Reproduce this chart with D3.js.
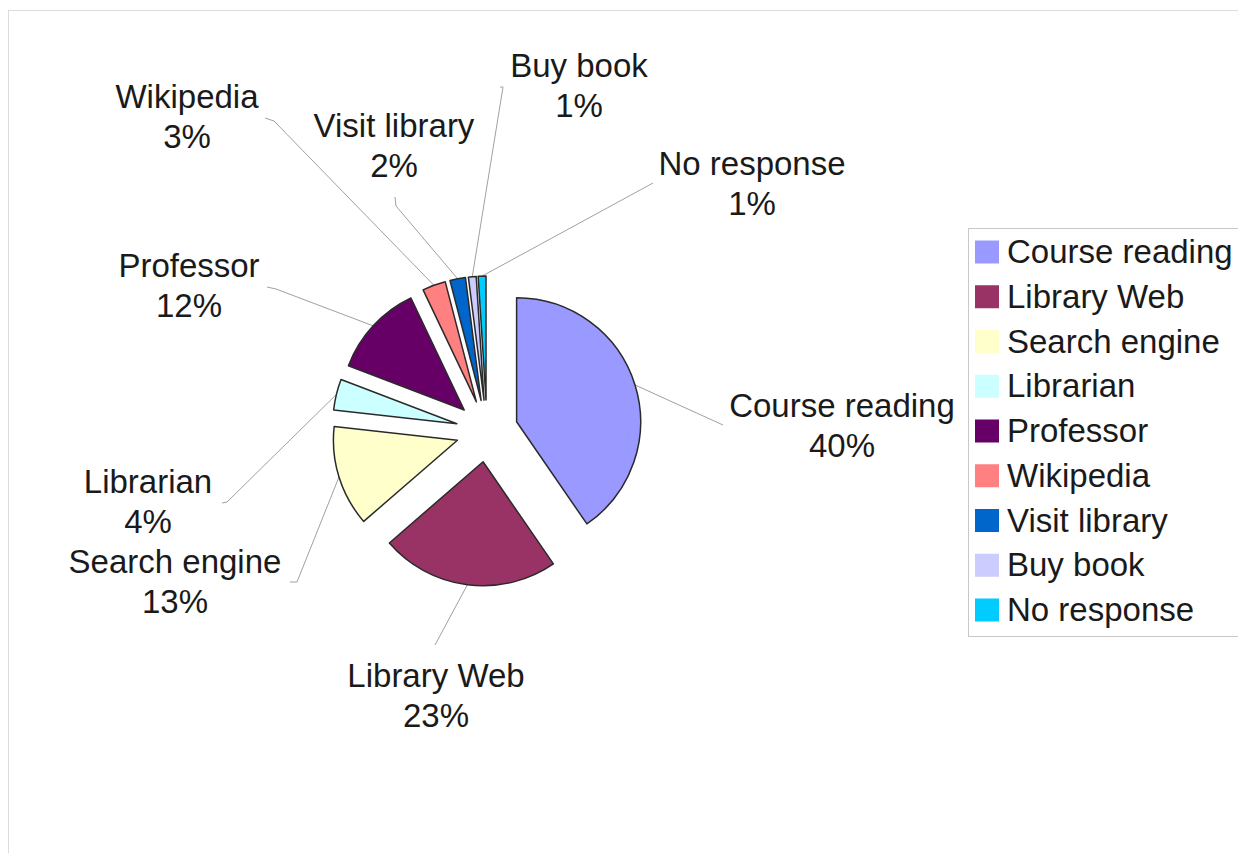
<!DOCTYPE html>
<html>
<head>
<meta charset="utf-8">
<script src="https://cdn.jsdelivr.net/npm/d3@7"></script>
<style>
  body { margin: 0; background: #fff; }
  text { font-family: "Liberation Sans", Arial, sans-serif; fill: #1a1a1a; }
</style>
</head>
<body>
<svg id="svg_main"></svg>
<script>
const categories = ['Course reading', 'Library Web', 'Search engine', 'Librarian', 'Professor',
    'Wikipedia', 'Visit library', 'Buy book', 'No response'];
const values = [40, 23, 13, 4, 12, 3, 2, 1, 1];
const colors = ['#9999ff', '#993366', '#ffffcc', '#ccffff', '#660066',
    '#ff8080', '#0066cc', '#ccccff', '#00ccff'];

// label layout (centre x, first baseline) and where the leader leaves the label
const labelLayout = [
    {x: 842, y: 417, lead: [[723, 425]]},
    {x: 436, y: 687, lead: [[435, 645]]},
    {x: 175, y: 573, lead: [[290, 582], [297, 582]]},
    {x: 148, y: 493, lead: [[222, 503], [227, 502]]},
    {x: 189, y: 277, lead: [[267, 287], [276, 289]]},
    {x: 187, y: 108, lead: [[265, 118], [274, 121]]},
    {x: 394, y: 137, lead: [[395, 197], [396, 206]]},
    {x: 579, y: 77, lead: [[500, 87], [503, 87]]},
    {x: 752, y: 175, lead: [[653, 183]]}
];

const width = 1238, height = 853;
const cx = 487, cy = 431, radius = 124, explode = 31;

const svg = d3.select('#svg_main')
    .attr('width', width)
    .attr('height', height);

// chart area frame (runs off the right and bottom edges)
svg.append('rect')
    .attr('x', 8.5).attr('y', 10.5)
    .attr('width', 1260).attr('height', 870)
    .attr('fill', 'none')
    .attr('stroke', '#dcdcdc');

const rows = categories.map((c, i) => ({name: c, value: values[i], color: colors[i], layout: labelLayout[i]}));

const pie = d3.pie().sort(null).value(d => d.value);
const arc = d3.arc().innerRadius(0).outerRadius(radius);
const arcs = pie(rows);

const mid = a => (a.startAngle + a.endAngle) / 2;
const offset = (a, k) => [Math.sin(mid(a)) * k, -Math.cos(mid(a)) * k];

// leader lines
svg.append('g')
    .attr('class', 'leaders')
    .attr('fill', 'none')
    .attr('stroke', '#a0a0a0')
    .attr('stroke-width', 1)
    .selectAll('polyline')
    .data(arcs)
    .join('polyline')
    .attr('points', d => {
        const [ox, oy] = offset(d, explode + radius);
        return d.data.layout.lead.concat([[cx + ox, cy + oy]]).map(p => p.join(',')).join(' ');
    });

// slices
svg.append('g')
    .attr('class', 'slices')
    .selectAll('path')
    .data(arcs)
    .join('path')
    .attr('transform', d => {
        const [ox, oy] = offset(d, explode);
        return `translate(${cx + ox},${cy + oy})`;
    })
    .attr('d', arc)
    .attr('fill', d => d.data.color)
    .attr('stroke', '#2a2a2a')
    .attr('stroke-width', 1.5)
    .attr('stroke-linejoin', 'round');

// data labels
const labels = svg.append('g')
    .attr('class', 'labels')
    .attr('font-size', 33)
    .attr('text-anchor', 'middle')
    .selectAll('text')
    .data(arcs)
    .join('text')
    .attr('x', d => d.data.layout.x)
    .attr('y', d => d.data.layout.y);
labels.append('tspan').text(d => d.data.name);
labels.append('tspan')
    .attr('x', d => d.data.layout.x)
    .attr('dy', 40)
    .text(d => d.data.value + '%');

// legend
const legend = svg.append('g').attr('class', 'legend');
legend.append('rect')
    .attr('x', 968.5).attr('y', 228.5)
    .attr('width', 300).attr('height', 408)
    .attr('fill', '#fff')
    .attr('stroke', '#c8c8c8');

const legendY = d3.scalePoint()
    .domain(categories)
    .range([252, 610]);

const item = legend.selectAll('g.item')
    .data(rows)
    .join('g')
    .attr('class', 'item')
    .attr('transform', d => `translate(0,${legendY(d.name)})`);
item.append('rect')
    .attr('x', 975).attr('y', -11.5)
    .attr('width', 24).attr('height', 23)
    .attr('fill', d => d.color);
item.append('text')
    .attr('x', 1007)
    .attr('y', 11)
    .attr('font-size', 33)
    .text(d => d.name);
</script>
</body>
</html>
